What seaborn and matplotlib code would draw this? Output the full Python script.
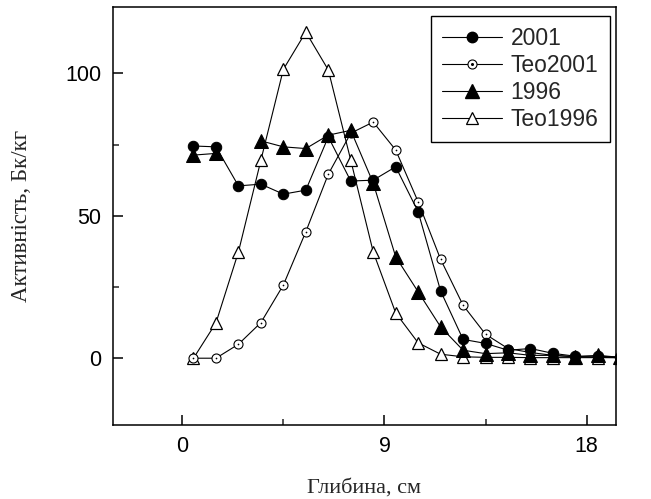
import numpy as np
import pandas as pd
import matplotlib
matplotlib.use("Agg")
import matplotlib.pyplot as plt
import seaborn as sns
from matplotlib.ticker import MultipleLocator
from matplotlib.lines import Line2D
from matplotlib.legend_handler import HandlerTuple

depth = [0.5, 1.5, 2.5, 3.5, 4.5, 5.5, 6.5, 7.5, 8.5, 9.5,
         10.5, 11.5, 12.5, 13.5, 14.5, 15.5, 16.5, 17.5, 18.5, 19.5]
y2001 = [74.5, 74.2, 60.5, 61.1, 57.6, 59.0, 77.7, 62.2, 62.5, 67.2,
         51.4, 23.6, 6.6, 5.2, 2.8, 3.4, 1.7, 0.7, 0.7, 0.4]
teo2001 = [0.0, 0.0, 4.9, 12.5, 25.7, 44.4, 64.6, 79.0, 82.9, 73.1,
           54.9, 34.7, 18.6, 8.4, 3.4, 2.0, 1.0, 0.5, 0.3, 0.2]
y1996 = [71.3, 71.9, np.nan, 76.3, 74.2, 73.6, 78.3, 80.0, 61.5, 35.6,
         23.3, 11.0, 2.8, 1.6, 1.9, 1.0, 1.0, 0.5, 1.0, 0.3]
teo1996 = [0.0, 12.4, 37.3, 69.5, 101.4, 114.5, 101.2, 69.5, 37.3, 15.9,
           5.4, 1.4, 0.5, 0.3, 0.3, 0.2, 0.2, 0.2, 0.2, 0.2]
labels = ["2001", "Teo2001", "1996", "Teo1996"]

sns.set_theme(style="ticks")
plt.rcParams['font.family'] = ['Liberation Sans', 'DejaVu Sans']

fig = plt.figure(figsize=(6.51, 4.99), dpi=100)
ax = fig.add_axes([0.173, 0.148, 0.773, 0.838])


def segdf(y):
    df = pd.DataFrame({"x": depth, "y": y})
    df["seg"] = df["y"].isna().cumsum()
    return df.dropna()


lw = 0.8
common = dict(x="x", y="y", units="seg", estimator=None, ax=ax,
              color="black", linewidth=lw, legend=False)

sns.lineplot(data=segdf(teo1996), marker="^", markersize=9,
             markerfacecolor="white", markeredgecolor="black",
             markeredgewidth=0.9, zorder=3, **common)
sns.lineplot(data=segdf(teo2001), marker="o", markersize=6.5,
             markerfacecolor="white", markeredgecolor="black",
             markeredgewidth=0.8, zorder=4, **common)
d2 = segdf(teo2001)
sns.scatterplot(data=d2, x="x", y="y", ax=ax, color="black", s=1.5,
                linewidth=0, zorder=4.5, legend=False)
sns.lineplot(data=segdf(y1996), marker="^", markersize=9.5,
             markerfacecolor="black", markeredgecolor="black",
             zorder=5, **common)
sns.lineplot(data=segdf(y2001), marker="o", markersize=7.5,
             markerfacecolor="black", markeredgecolor="black",
             zorder=6, **common)

ax.set_xlim(-3.1, 19.3)
ax.set_ylim(-23.5, 123.3)
ax.xaxis.set_major_locator(MultipleLocator(9))
ax.xaxis.set_minor_locator(MultipleLocator(4.5))
ax.yaxis.set_major_locator(MultipleLocator(50))
ax.yaxis.set_minor_locator(MultipleLocator(25))
ax.tick_params(which="major", direction="in", length=7.5, width=1.1,
               labelsize=15.5, pad=8, colors="black")
ax.tick_params(which="minor", direction="in", length=4, width=1.1)
ax.tick_params(top=False, right=False, which="both")
for sp in ax.spines.values():
    sp.set_linewidth(1.1)
    sp.set_color("black")
    sp.set_visible(True)

serif = ['Liberation Serif', 'DejaVu Serif']
ax.set_xlabel("Глибина, см", family=serif, fontsize=16, labelpad=15)
ax.set_ylabel("Активність, Бк/кг", family=serif, fontsize=16.5, labelpad=24)

h1 = Line2D([], [], color="black", lw=lw, marker="o", ms=7.5, mfc="black")
h2a = Line2D([], [], color="black", lw=lw, marker="o", ms=6.5, mfc="white", mew=0.8)
h2b = Line2D([], [], color="black", lw=0, marker="o", ms=1.2)
h3 = Line2D([], [], color="black", lw=lw, marker="^", ms=9.5, mfc="black")
h4 = Line2D([], [], color="black", lw=lw, marker="^", ms=9, mfc="white", mew=0.9)
leg = ax.legend([h1, (h2a, h2b), h3, h4], labels,
                handler_map={tuple: HandlerTuple(ndivide=1, pad=0)},
                loc="upper right", bbox_to_anchor=(0.988, 0.979),
                fontsize=16.5, frameon=True, fancybox=False, edgecolor="black",
                framealpha=1, handlelength=2.6, handletextpad=0.37,
                labelspacing=0.17, borderpad=0.5, borderaxespad=0)
leg.get_frame().set_linewidth(1.0)

fig.savefig("out.png", dpi=100)
